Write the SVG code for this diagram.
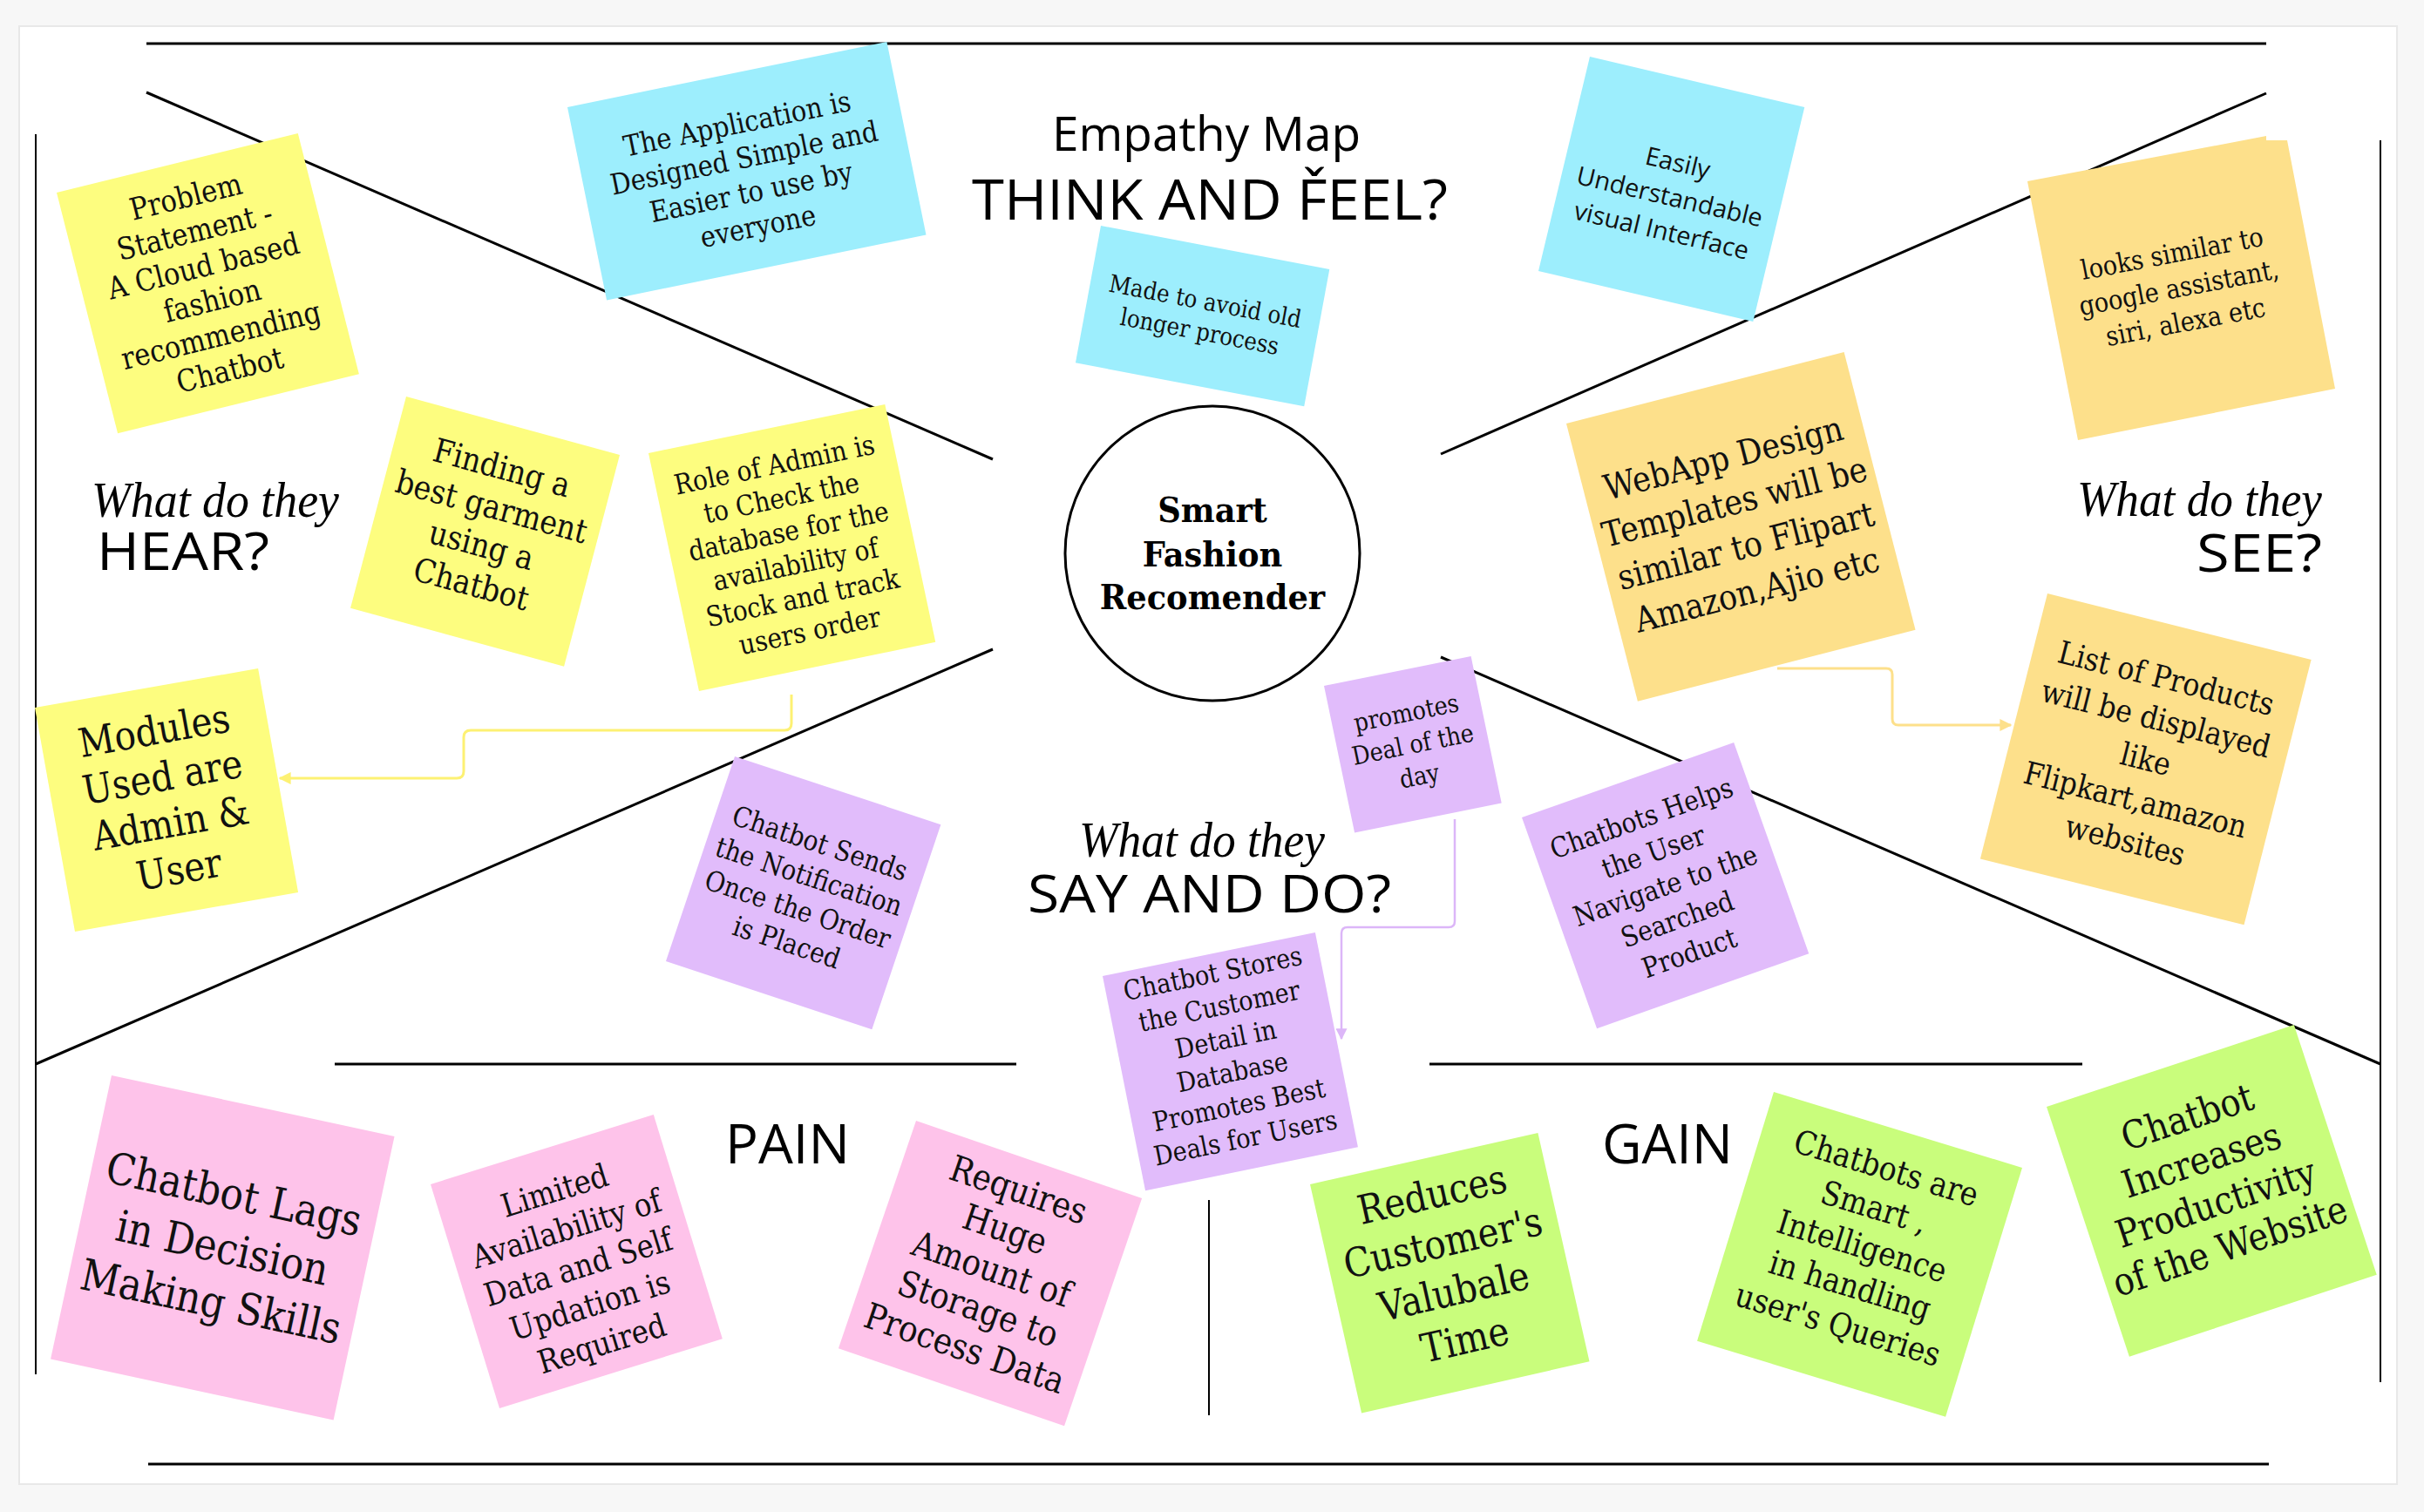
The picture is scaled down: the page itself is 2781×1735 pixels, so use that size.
<svg xmlns="http://www.w3.org/2000/svg" width="2781" height="1735" viewBox="0 0 2781 1735">
<defs>
<style>
.ln{stroke:#000;stroke-width:3;fill:none}
.lv{stroke:#000;stroke-width:2;fill:none}
.y{fill:#fdfd7f}.b{fill:#9deefd}.o{fill:#fde08b}.p{fill:#e1bcfb}.k{fill:#fec3ea}.g{fill:#c9fd7c}
.nt{font-family:"DejaVu Serif","Liberation Serif",serif;text-anchor:middle;fill:#111}
.hd{font-family:"Open Sans","Noto Sans",sans-serif;fill:#000}
.sc{font-family:"Liberation Serif","DejaVu Serif",serif;font-style:italic;fill:#000}
</style>
<marker id="ay" viewBox="0 0 10 10" refX="9" refY="5" markerWidth="14" markerHeight="14" markerUnits="userSpaceOnUse" orient="auto"><path d="M0,0 L10,5 L0,10 z" fill="#fdf173"/></marker>
<marker id="ao" viewBox="0 0 10 10" refX="9" refY="5" markerWidth="14" markerHeight="14" markerUnits="userSpaceOnUse" orient="auto"><path d="M0,0 L10,5 L0,10 z" fill="#fde08b"/></marker>
<marker id="ap" viewBox="0 0 10 10" refX="9" refY="5" markerWidth="13" markerHeight="13" markerUnits="userSpaceOnUse" orient="auto"><path d="M0,0 L10,5 L0,10 z" fill="#dcb6f8"/></marker>
</defs>
<rect width="2781" height="1735" fill="#f7f7f7"/>
<rect x="22" y="30" width="2728" height="1673" fill="#fff" stroke="#e8e8e8" stroke-width="2"/>

<g id="frame">
<line class="ln" x1="168" y1="50" x2="2600" y2="50" stroke="#222"/>
<line class="ln" x1="170" y1="1680" x2="2603" y2="1680"/>
<line class="lv" x1="41" y1="154" x2="41" y2="1577"/>
<line class="lv" x1="2731" y1="161" x2="2731" y2="1586"/>
<line class="ln" x1="168" y1="106" x2="1139" y2="527"/>
<line class="ln" x1="1653" y1="521" x2="2600" y2="107"/>
<line class="ln" x1="1139" y1="745" x2="41" y2="1221"/>
<line class="ln" x1="1653" y1="754" x2="2731" y2="1221"/>
<line class="ln" x1="384" y1="1221" x2="1166" y2="1221"/>
<line class="ln" x1="1640" y1="1221" x2="2389" y2="1221"/>
<line class="lv" x1="1387" y1="1377" x2="1387" y2="1624"/>
</g>

<g id="headings">
<text class="hd" x="1384" y="173" font-size="55" text-anchor="middle" textLength="354" lengthAdjust="spacingAndGlyphs">Empathy Map</text>
<text class="hd" x="1388" y="252" font-size="64" text-anchor="middle" textLength="546" lengthAdjust="spacingAndGlyphs">THINK AND F&#x30C;EEL?</text>
<text class="sc" x="105" y="593" font-size="56" textLength="284" lengthAdjust="spacingAndGlyphs">What do they</text>
<text class="hd" x="111" y="654" font-size="60" textLength="198" lengthAdjust="spacingAndGlyphs">HEAR?</text>
<text class="sc" x="2383" y="592" font-size="56" textLength="281" lengthAdjust="spacingAndGlyphs">What do they</text>
<text class="hd" x="2520" y="656" font-size="60" textLength="144" lengthAdjust="spacingAndGlyphs">SEE?</text>
<text class="sc" x="1238" y="983" font-size="56" textLength="282" lengthAdjust="spacingAndGlyphs">What do they</text>
<text class="hd" x="1179" y="1047" font-size="60" textLength="417" lengthAdjust="spacingAndGlyphs">SAY AND DO?</text>
<text class="hd" x="832" y="1335" font-size="62" textLength="143" lengthAdjust="spacingAndGlyphs">PAIN</text>
<text class="hd" x="1838" y="1335" font-size="62" textLength="150" lengthAdjust="spacingAndGlyphs">GAIN</text>
</g>

<g id="center">
<circle cx="1391" cy="635" r="169" fill="#fff" stroke="#000" stroke-width="3"/>
<text font-family="DejaVu Serif, serif" font-weight="bold" font-size="40" text-anchor="middle" transform="translate(1391 0) scale(.92 1)"><tspan x="0" y="599">Smart</tspan><tspan x="0" y="650">Fashion</tspan><tspan x="0" y="699">Recomender</tspan></text>
</g>

<g id="connectors">
<path d="M908,797 V830 Q908,838 900,838 H540 Q532,838 532,846 V885 Q532,893 524,893 H321" fill="none" stroke="#fdf173" stroke-width="3" marker-end="url(#ay)"/>
<path d="M2039,767 H2164 Q2171,767 2171,774 V825 Q2171,832 2178,832 H2307" fill="none" stroke="#fde08b" stroke-width="3" marker-end="url(#ao)"/>
<path d="M1669,940 V1057 Q1669,1064 1662,1064 H1546 Q1539,1064 1539,1071 V1192" fill="none" stroke="#dcb6f8" stroke-width="2.5" marker-end="url(#ap)"/>
</g>

<g id="note-problem" transform="matrix(.9712 -.2384 .2459 .9694 65 221)">
<rect class="y" width="285" height="285"/>
<text class="nt" font-size="35" transform="translate(142.5 52) scale(.88 1)"><tspan x="0">Problem</tspan><tspan x="0" dy="41">Statement -</tspan><tspan x="0" dy="41">A Cloud based</tspan><tspan x="0" dy="41">fashion</tspan><tspan x="0" dy="41">recommending</tspan><tspan x="0" dy="41">Chatbot</tspan></text>
</g>

<g id="note-application" transform="matrix(.9797 -.2007 .1995 .98 651 123)">
<rect class="b" width="374" height="226"/>
<text class="nt" font-size="33" transform="translate(187 69) scale(.88 1)"><tspan x="0">The Application is</tspan><tspan x="0" dy="40">Designed Simple and</tspan><tspan x="0" dy="40">Easier to use by</tspan><tspan x="0" dy="40">everyone</tspan></text>
</g>

<g id="note-made" transform="matrix(.9823 .1875 -.1816 .9831 1263 259)">
<rect class="b" width="267" height="160"/>
<text class="nt" font-size="28" transform="translate(133.5 72.5) scale(.88 1)"><tspan x="0">Made to avoid old</tspan><tspan x="0" dy="35">longer process</tspan></text>
</g>

<g id="note-easily" transform="matrix(.9735 .2295 -.2332 .9724 1824 65)">
<rect class="b" width="253" height="253"/>
<text font-family="Open Sans, Noto Sans, sans-serif" font-size="29" text-anchor="middle" fill="#111" transform="translate(126.5 105.5)"><tspan x="0">Easily</tspan><tspan x="0" dy="40">Understandable</tspan><tspan x="0" dy="40">visual Interface</tspan></text>
</g>

<g id="note-looks">
<polygon class="o" points="2326,208 2600,156 2600,161 2624,161 2679,446 2384,505"/>
<g transform="matrix(.9824 -.1864 .1917 .9815 2326 208)">
<text class="nt" font-size="31" transform="translate(147 123) scale(.88 1)"><tspan x="0">looks similar to</tspan><tspan x="0" dy="40">google assistant,</tspan><tspan x="0" dy="40">siri, alexa etc</tspan></text>
</g>
</g>

<g id="note-webapp" transform="matrix(.9685 -.2489 .2489 .9685 1797 486)">
<rect class="o" width="329" height="329"/>
<text class="nt" font-size="40" transform="translate(164.5 97) scale(.88 1)"><tspan x="0">WebApp Design</tspan><tspan x="0" dy="52">Templates will be</tspan><tspan x="0" dy="52">similar to Flipart</tspan><tspan x="0" dy="52">Amazon,Ajio etc</tspan></text>
</g>

<g id="note-list" transform="matrix(.9699 .2433 -.2455 .9694 2349 681)">
<rect class="o" width="312" height="314"/>
<text class="nt" font-size="36" transform="translate(156 73.6) scale(.88 1)"><tspan x="0">List of Products</tspan><tspan x="0" dy="48">will be displayed</tspan><tspan x="0" dy="48">like</tspan><tspan x="0" dy="48">Flipkart,amazon</tspan><tspan x="0" dy="48">websites</tspan></text>
</g>

<g id="note-finding" transform="matrix(.9646 .2638 -.2547 .967 466 455)">
<rect class="y" width="254" height="251"/>
<text class="nt" font-size="38" transform="translate(127 63) scale(.88 1)"><tspan x="0">Finding a</tspan><tspan x="0" dy="46">best garment</tspan><tspan x="0" dy="46">using a</tspan><tspan x="0" dy="46">Chatbot</tspan></text>
</g>

<g id="note-role" transform="matrix(.9794 -.2024 .2078 .9781 744 520)">
<rect class="y" width="277" height="279"/>
<text class="nt" font-size="32" transform="translate(138.5 53.2) scale(.88 1)"><tspan x="0">Role of Admin is</tspan><tspan x="0" dy="39">to Check the</tspan><tspan x="0" dy="39">database for the</tspan><tspan x="0" dy="39">availability of</tspan><tspan x="0" dy="39">Stock and track</tspan><tspan x="0" dy="39">users order</tspan></text>
</g>

<g id="note-modules" transform="matrix(.985 -.1731 .1762 .9843 40 812)">
<rect class="y" width="260" height="261"/>
<text class="nt" font-size="46" transform="translate(130 65.5) scale(.88 1)"><tspan x="0">Modules</tspan><tspan x="0" dy="54">Used are</tspan><tspan x="0" dy="54">Admin &amp;</tspan><tspan x="0" dy="54">User</tspan></text>
</g>

<g id="note-sends" transform="matrix(.9493 .3138 -.3187 .9479 843 868)">
<rect class="p" width="249" height="248"/>
<text class="nt" font-size="32" transform="translate(124.5 75) scale(.88 1)"><tspan x="0">Chatbot Sends</tspan><tspan x="0" dy="40">the Notification</tspan><tspan x="0" dy="40">Once the Order</tspan><tspan x="0" dy="40">is Placed</tspan></text>
</g>

<g id="note-promotes" transform="matrix(.9803 -.1972 .204 .979 1519 787)">
<rect class="p" width="172" height="172"/>
<text class="nt" font-size="29" transform="translate(86 59) scale(.88 1)"><tspan x="0">promotes</tspan><tspan x="0" dy="37">Deal of the</tspan><tspan x="0" dy="37">day</tspan></text>
</g>

<g id="note-helps" transform="matrix(.9426 -.3336 .3349 .9424 1746 938)">
<rect class="p" width="258" height="257"/>
<text class="nt" font-size="32" transform="translate(129 57.7) scale(.88 1)"><tspan x="0">Chatbots Helps</tspan><tspan x="0" dy="41">the User</tspan><tspan x="0" dy="41">Navigate to the</tspan><tspan x="0" dy="41">Searched</tspan><tspan x="0" dy="41">Product</tspan></text>
</g>

<g id="note-stores" transform="matrix(.9795 -.2007 .1954 .9808 1265 1120)">
<rect class="p" width="249" height="251"/>
<text class="nt" font-size="31" transform="translate(124.5 33) scale(.88 1)"><tspan x="0">Chatbot Stores</tspan><tspan x="0" dy="38.5">the Customer</tspan><tspan x="0" dy="38.5">Detail in</tspan><tspan x="0" dy="38.5">Database</tspan><tspan x="0" dy="38.5">Promotes Best</tspan><tspan x="0" dy="38.5">Deals for Users</tspan></text>
</g>

<g id="note-lags" transform="matrix(.9775 .2105 -.21 .9778 128 1234)">
<rect class="k" width="332" height="333"/>
<text class="nt" font-size="50" transform="translate(166 121) scale(.88 1)"><tspan x="0">Chatbot Lags</tspan><tspan x="0" dy="63">in Decision</tspan><tspan x="0" dy="63">Making Skills</tspan></text>
</g>

<g id="note-limited" transform="matrix(.9545 -.2983 .2938 .9558 494 1359)">
<rect class="k" width="268" height="269"/>
<text class="nt" font-size="37" transform="translate(134 62) scale(.88 1)"><tspan x="0">Limited</tspan><tspan x="0" dy="46">Availability of</tspan><tspan x="0" dy="46">Data and Self</tspan><tspan x="0" dy="46">Updation is</tspan><tspan x="0" dy="46">Required</tspan></text>
</g>

<g id="note-requires" transform="matrix(.9456 .3249 -.3227 .9464 1051 1286)">
<rect class="k" width="274" height="276"/>
<text class="nt" font-size="41" transform="translate(137 51) scale(.88 1)"><tspan x="0">Requires</tspan><tspan x="0" dy="48">Huge</tspan><tspan x="0" dy="48">Amount of</tspan><tspan x="0" dy="48">Storage to</tspan><tspan x="0" dy="48">Process Data</tspan></text>
</g>

<g id="note-reduces" transform="matrix(.9754 -.2205 .2197 .9755 1503 1359)">
<rect class="g" width="268" height="269"/>
<text class="nt" font-size="46" transform="translate(134 58) scale(.88 1)"><tspan x="0">Reduces</tspan><tspan x="0" dy="57">Customer's</tspan><tspan x="0" dy="57">Valubale</tspan><tspan x="0" dy="57">Time</tspan></text>
</g>

<g id="note-smart" transform="matrix(.9564 .2919 -.2941 .9558 2035 1253)">
<rect class="g" width="298" height="299"/>
<text class="nt" font-size="38" transform="translate(149 59) scale(.88 1)"><tspan x="0">Chatbots are</tspan><tspan x="0" dy="47">Smart ,</tspan><tspan x="0" dy="47">Intelligence</tspan><tspan x="0" dy="47">in handling</tspan><tspan x="0" dy="47">user's Queries</tspan></text>
</g>

<g id="note-increases" transform="matrix(.9492 -.3142 .3143 .9494 2348 1270)">
<rect class="g" width="299" height="302"/>
<text class="nt" font-size="44" transform="translate(149.5 77) scale(.88 1)"><tspan x="0">Chatbot</tspan><tspan x="0" dy="52">Increases</tspan><tspan x="0" dy="52">Productivity</tspan><tspan x="0" dy="52">of the Website</tspan></text>
</g>
</svg>
